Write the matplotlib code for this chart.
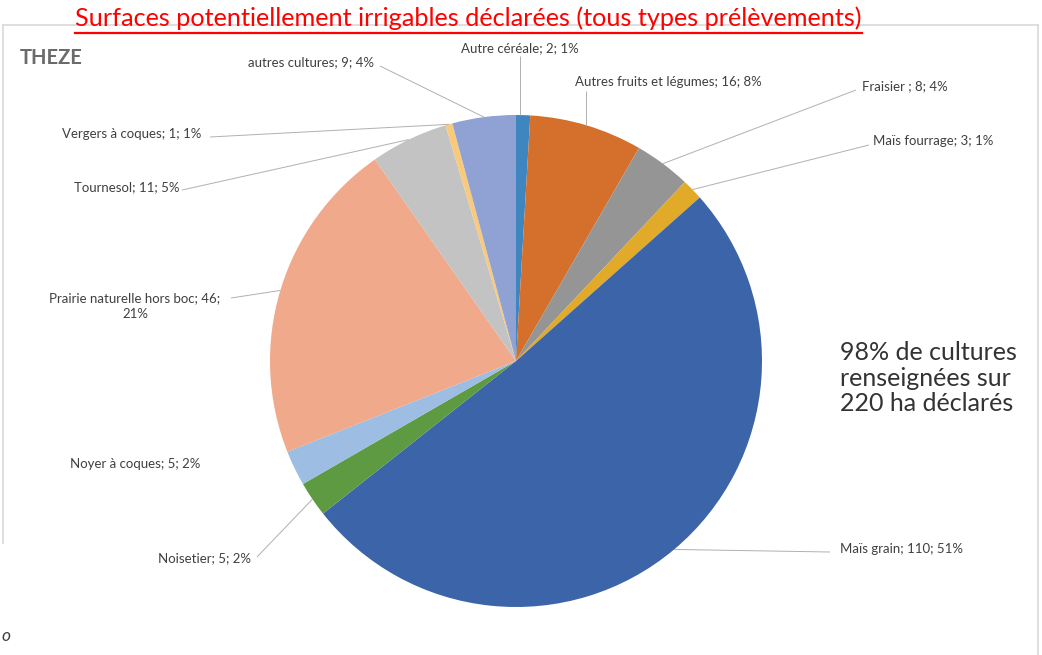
import numpy as np
import matplotlib
matplotlib.use("Agg")
import matplotlib.pyplot as plt

plt.rcParams['font.family'] = ['Lato', 'DejaVu Sans']

# ---------------------
# DATA
# ---------------------
cultures = [
    "Autre céréale", "Autres fruits et légumes", "Fraisier ", "Maïs fourrage",
    "Maïs grain", "Noisetier", "Noyer à coques", "Prairie naturelle hors boc",
    "Tournesol", "Vergers à coques", "autres cultures",
]
surfaces = [2, 16, 8, 3, 110, 5, 5, 46, 11, 1, 9]
pourcents = [1, 8, 4, 1, 51, 2, 2, 21, 5, 1, 4]
couleurs = [
    "#3f86c0", "#d4702b", "#959595", "#e1aa28", "#3c64a8", "#5d9a41",
    "#9dbde3", "#f0a98a", "#c3c3c3", "#f9c97c", "#8fa2d3",
]

W, H = 1042, 655
def Y(y):
    return H - y

fig = plt.figure(figsize=(W / 100, H / 100), dpi=100)
ax = fig.add_axes([0, 0, 1, 1])

cx, cy, r = 516, 361, 246

wedges, _ = ax.pie(
    surfaces,
    colors=couleurs,
    startangle=90,
    counterclock=False,
    center=(cx, Y(cy)),
    radius=r,
    wedgeprops=dict(linewidth=0),
)

ax.set_xlim(0, W)
ax.set_ylim(0, H)
ax.set_aspect("equal")
ax.axis("off")

# label positions (x, y, alignment) and whether a leader line is drawn
placement = {
    "Autre céréale": (520, 48, "center", True),
    "Autres fruits et légumes": (575, 82, "left", True),
    "Fraisier ": (862, 86, "left", True),
    "Maïs fourrage": (873, 141, "left", True),
    "Maïs grain": (840, 549, "left", True),
    "Noisetier": (251, 558, "right", True),
    "Noyer à coques": (70, 464, "left", False),
    "Prairie naturelle hors boc": (135, 306, "center", True),
    "Tournesol": (180, 187, "right", True),
    "Vergers à coques": (201, 134, "right", True),
    "autres cultures": (248, 62, "left", True),
}
line_start = {
    "Autre céréale": (520, 56),
    "Autres fruits et légumes": (586, 91),
    "Fraisier ": (856, 90),
    "Maïs fourrage": (869, 145),
    "Maïs grain": (830, 552),
    "Noisetier": (257, 557),
    "Prairie naturelle hors boc": (231, 298),
    "Tournesol": (182, 190),
    "Vergers à coques": (210, 137),
    "autres cultures": (380, 66),
}

for w, name, val, pct in zip(wedges, cultures, surfaces, pourcents):
    x, y, ha, leader = placement[name]
    if name == "Prairie naturelle hors boc":
        txt = f"{name}; {val};\n{pct}%"
    else:
        txt = f"{name}; {val}; {pct}%"
    ax.text(x, Y(y), txt, ha=ha, va="center", fontsize=9.5,
            color="#404040", linespacing=1.35)
    if leader:
        mid = np.deg2rad((w.theta1 + w.theta2) / 2)
        ex = cx + r * np.cos(mid)
        ey = Y(cy) + r * np.sin(mid)
        sx, sy = line_start[name]
        if name in ("Autre céréale", "Autres fruits et légumes"):
            ex = sx
            ey = Y(cy) + np.sqrt(r**2 - (sx - cx) ** 2)
        ax.plot([sx, ex], [Y(sy), ey], color="#b0b0b0", lw=0.7,
                solid_capstyle="butt")

# frame of the chart area
ax.plot([3, 3], [Y(25), Y(543)], color="#d9d9d9", lw=1.2)
ax.plot([3, 1038], [Y(25), Y(25)], color="#d9d9d9", lw=1.2)
ax.plot([1038, 1038], [Y(25), 0], color="#d9d9d9", lw=1.2)

# title with underline, fitted to width
title = ax.text(75, Y(18), "Surfaces potentiellement irrigables déclarées (tous types prélèvements)",
                ha="left", va="center", fontsize=19, color="#ff0000")
renderer = fig.canvas.get_renderer()
bb = title.get_window_extent(renderer)
title.set_fontsize(19 * 790 / bb.width)
bb = title.get_window_extent(renderer)
x0, x1 = bb.x0, bb.x1
ax.plot([x0, x1], [Y(33), Y(33)], color="#ff0000", lw=1.6)

ax.text(20, Y(58), "THEZE", ha="left", va="center", fontsize=14.5,
        fontweight="bold", color="#6b6b6b")

ax.text(840, Y(378), "98% de cultures\nrenseignées sur\n220 ha déclarés",
        ha="left", va="center", fontsize=18, color="#333333",
        linespacing=1.12)

ax.text(1, Y(636), "o", ha="left", va="center", fontsize=12.5,
        style="italic", color="#404040")

fig.savefig("out.png", dpi=100)
